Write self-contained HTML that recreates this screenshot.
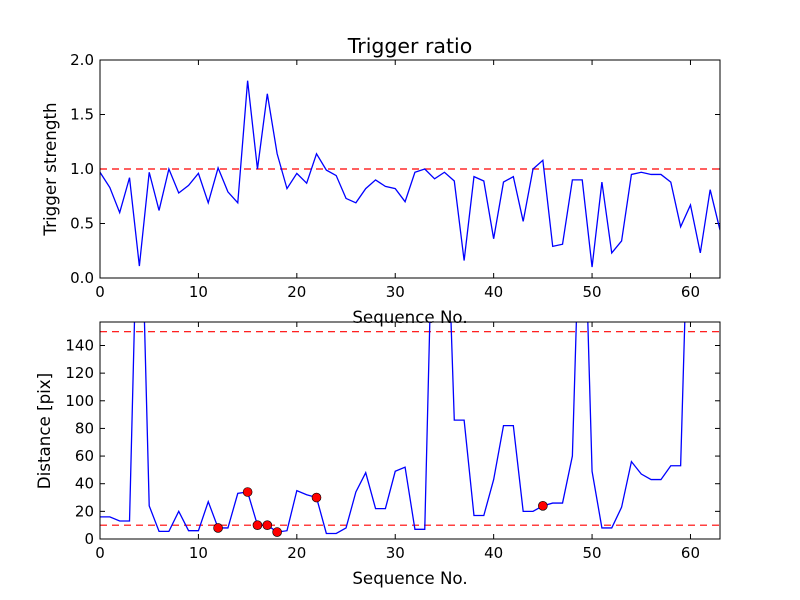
<!DOCTYPE html>
<html><head><meta charset="utf-8"><style>
body{margin:0;background:#fff}
svg{display:block;font-family:"DejaVu Sans","Liberation Sans",sans-serif}
</style></head><body>
<svg id="c" width="800" height="600" xmlns="http://www.w3.org/2000/svg">
<rect width="800" height="600" fill="#fff"/>
<defs>
<clipPath id="clipTop"><rect x="100" y="60" width="620" height="218"/></clipPath>
<clipPath id="clipBot"><rect x="100" y="322" width="620" height="217"/></clipPath>
</defs>
</svg>
<script>
const strength=[0.97,0.83,0.6,0.92,0.11,0.97,0.62,1.0,0.78,0.85,0.96,0.69,1.01,0.79,0.69,1.81,1.0,1.69,1.14,0.82,0.96,0.87,1.14,0.99,0.94,0.73,0.69,0.82,0.9,0.84,0.82,0.7,0.97,1.0,0.91,0.97,0.89,0.16,0.93,0.89,0.36,0.88,0.93,0.52,1.0,1.08,0.29,0.31,0.9,0.9,0.1,0.88,0.23,0.34,0.95,0.97,0.95,0.95,0.88,0.47,0.67,0.23,0.81,0.44];
const distance=[16,16,13,13,300,24,5.5,5.5,20,6,6,27,8,8,33,34,10,10,5,6,35,32,30,4,4,8,34,48,22,22,49,52,7,7,300,300,86,86,17,17,43,82,82,20,20,24,26,26,60,300,49,8,8,23,56,47,43,43,53,53,300,300,300,300];
const markIdx=[12,15,16,17,18,22,45];
const xTicks=[0,10,20,30,40,50,60];
const yTicksTop=[0,0.5,1.0,1.5,2.0];
const yTicksBot=[0,20,40,60,80,100,120,140];
const thrTop=[1.0];
const thrBot=[10,150];

const svg=document.getElementById('c');
const NS='http://www.w3.org/2000/svg';
function mk(t,a,p){const e=document.createElementNS(NS,t);for(const k in a)e.setAttribute(k,a[k]);(p||svg).appendChild(e);return e;}
const X0=100,X1=720,XMAX=63;
const sx=v=>X0+v/XMAX*(X1-X0);

function axes(top,bot,ymax,yt,fmt,name){
  const sy=v=>bot-v/ymax*(bot-top);
  const g=mk('g',{});
  
  
  xTicks.forEach(t=>{
    const x=sx(t);
    mk('line',{x1:x,x2:x,y1:bot,y2:bot-5,stroke:'#000'},g);
    mk('line',{x1:x,x2:x,y1:top,y2:top+5,stroke:'#000'},g);
    const tx=mk('text',{x:x,y:bot+19,'font-size':15,'text-anchor':'middle'},g);
    tx.textContent=t;
    
    
  });
  yt.forEach(t=>{
    const y=sy(t);
    mk('line',{x1:X0,x2:X0+5,y1:y,y2:y,stroke:'#000'},g);
    mk('line',{x1:X1,x2:X1-5,y1:y,y2:y,stroke:'#000'},g);
    const tx=mk('text',{x:X0-6,y:y+5,'font-size':15,'text-anchor':'end'},g);
    tx.textContent=fmt(t);
    
    
  });
  return sy;
}

// top
const syT=axes(60,278,2.0,yTicksTop,t=>t.toFixed(1),'top');
const gT=mk('g',{'clip-path':'url(#clipTop)'});
thrTop.forEach(v=>{const l=mk('line',{x1:X0,x2:X1,y1:syT(v),y2:syT(v),stroke:'red','stroke-width':1.2,'stroke-dasharray':'7,5'},gT);
});
const pT=mk('polyline',{points:strength.map((v,i)=>sx(i)+','+syT(v)).join(' '),fill:'none',stroke:'blue','stroke-width':1.3},gT);


mk('rect',{x:X0,y:60,width:620,height:218,fill:'none',stroke:'#000'});
let t=mk('text',{x:410,y:53,'font-size':20.5,'text-anchor':'middle'});t.textContent='Trigger ratio';

t=mk('text',{x:410,y:323,'font-size':16.7,'text-anchor':'middle'});t.textContent='Sequence No.';

t=mk('text',{x:56,y:169,'font-size':16.7,'text-anchor':'middle',transform:'rotate(-90 56 169)'});t.textContent='Trigger strength';


// bottom
const syB=axes(322,539,157,yTicksBot,t=>String(t),'bottom');
const gB=mk('g',{'clip-path':'url(#clipBot)'});
thrBot.forEach(v=>{const l=mk('line',{x1:X0,x2:X1,y1:syB(v),y2:syB(v),stroke:'red','stroke-width':1.2,'stroke-dasharray':'7,5'},gB);
});
const pB=mk('polyline',{points:distance.map((v,i)=>sx(i)+','+syB(v)).join(' '),fill:'none',stroke:'blue','stroke-width':1.3},gB);


markIdx.forEach(i=>{const c=mk('circle',{cx:sx(i),cy:syB(distance[i]),r:4.5,fill:'red',stroke:'#000','stroke-width':0.6},gB);
});
mk('rect',{x:X0,y:322,width:620,height:217,fill:'none',stroke:'#000'});
t=mk('text',{x:410,y:584,'font-size':16.7,'text-anchor':'middle'});t.textContent='Sequence No.';

t=mk('text',{x:50,y:431,'font-size':16.7,'text-anchor':'middle',transform:'rotate(-90 50 431)'});t.textContent='Distance [pix]';

</script>
</body></html>
